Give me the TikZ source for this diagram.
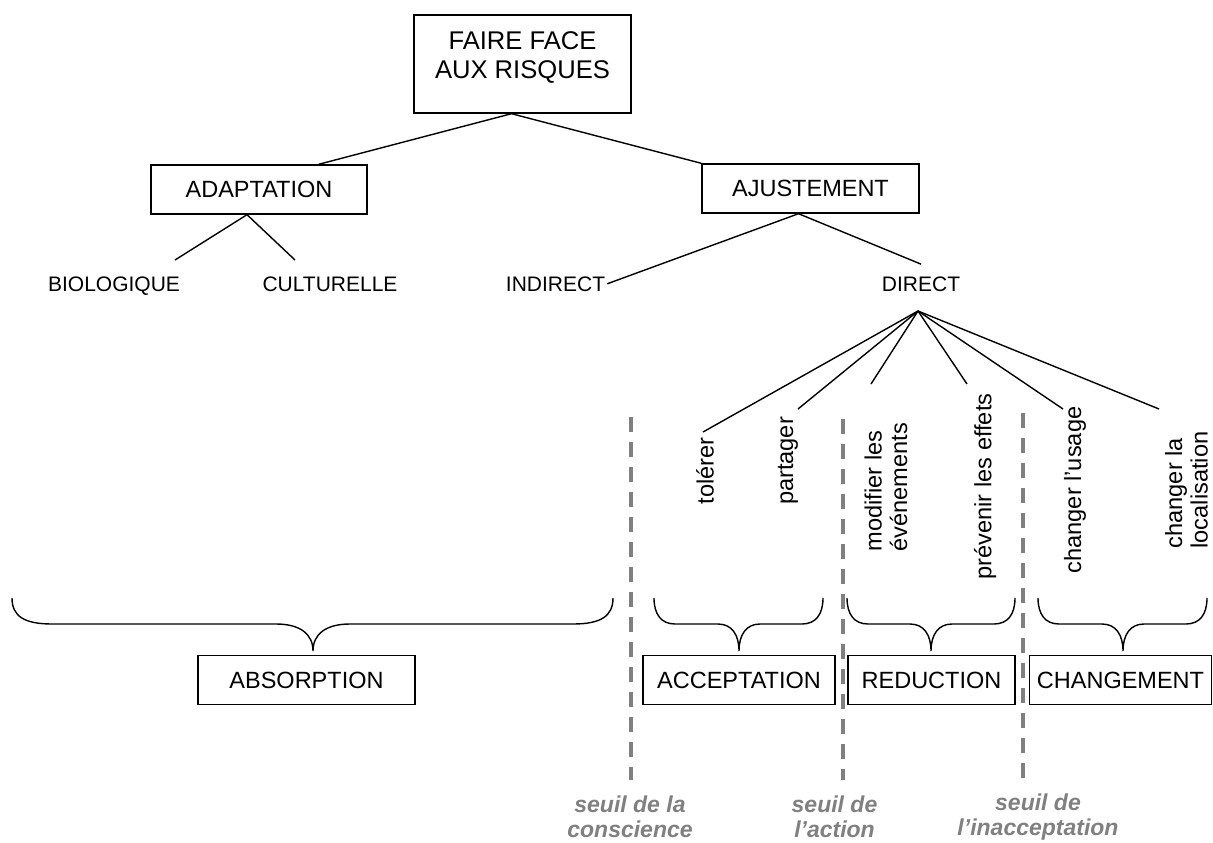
\documentclass[tikz,border=0pt]{standalone}
\usepackage{fontspec}
\setmainfont{Liberation Sans}
\usepackage{xcolor}
\usepackage{tikz}
\definecolor{seuilgray}{RGB}{128,128,128}
\tikzset{
	box/.style={draw, line width=1.4pt, inner sep=0pt, minimum height=49pt, font=\fontsize{23.5}{27}\selectfont},
	lbl/.style={inner sep=2pt, font=\fontsize{21}{24}\selectfont},
	vlbl/.style={rotate=90, inner sep=0pt, align=left, font=\fontsize{23.6}{25.5}\selectfont},
	seuiltxt/.style={text=seuilgray, align=center, inner sep=0pt, font=\fontsize{23}{25}\selectfont\bfseries\itshape},
	seuilline/.style={seuilgray, line width=3.5pt, dash pattern=on 15pt off 10pt},
	link/.style={line width=1.4pt}
}

\begin{document}
\begin{tikzpicture}[x=1pt,y=-1pt]
	\useasboundingbox (0,0) rectangle (1213,843);
	
	\node[box, minimum width=217pt, minimum height=98pt] (faire) at (522.5,64) {};
	\node[align=center, inner sep=0pt, font=\fontsize{25.6}{29}\selectfont] (faireTxt) at ([yshift=6.5pt]faire.center) {FAIRE FACE\\AUX RISQUES};
	
	\node[box, minimum width=216pt] (adapt) at (259,189.5) {ADAPTATION};
	\node[box, minimum width=217pt] (ajust) at (810.5,188.5) {AJUSTEMENT};
	
	\node[lbl, anchor=base] (bio) at (114,291) {BIOLOGIQUE};
	\node[lbl, anchor=base] (cult) at (330,291) {CULTURELLE};
	\node[lbl, anchor=base] (indirect) at (555.5,291) {INDIRECT};
	\node[lbl, anchor=base] (direct) at (921,291) {DIRECT};
	
	\coordinate (bioEnd) at (175,260);
	\coordinate (cultEnd) at (295,260);
	\coordinate (fan) at (918,311);
	
	\draw[link] ([xshift=-11pt]faire.south) -- ([xshift=-49pt]adapt.north east);
	\draw[link] ([xshift=-11pt]faire.south) -- (ajust.north west);
	\draw[link] (bioEnd) -- ([xshift=-12pt]adapt.south) -- (cultEnd);
	\draw[link] (indirect.east) -- ([xshift=-12pt]ajust.south) -- ([yshift=10pt]direct.north);
	
	% les six moyens d'ajustement direct
	\node[vlbl] (tolerer) at (705,471) {tolérer};
	\node[vlbl] (partager) at (788,461) {partager};
	\node[vlbl] (modifier) at (886,487) {modifier les\\événements};
	\node[vlbl] (prevenir) at (985,486.5) {prévenir les effets};
	\node[vlbl] (usage) at (1075,490) {changer l’usage};
	\node[vlbl] (localis) at (1186.5,490) {changer la\\localisation};
	
	\coordinate (tolEnd) at (703,432);
	\coordinate (partEnd) at (798,409);
	\coordinate (modEnd) at (871,384);
	\coordinate (prevEnd) at (967,384);
	\coordinate (usageEnd) at (1063,409);
	\coordinate (locEnd) at (1159,409);
	\foreach \e in {tolEnd,partEnd,modEnd,prevEnd,usageEnd,locEnd}
		\draw[link] (fan) -- (\e);
	
	% accolades
	\draw[link] (12,598) .. controls (12,616) and (24,624) .. (52,624) -- (276,624) .. controls (300,624) and (313,634) .. (313,651) .. controls (313,634) and (326,624) .. (350,624) -- (573,624) .. controls (601,624) and (613,616) .. (613,598);
	\foreach \l/\t/\r in {654/739/823, 847/931/1015, 1038/1123/1207}
		\draw[link] (\l,598) .. controls (\l,614) and ({\l+7},624) .. ({\l+21},624) -- ({\t-21},624) .. controls ({\t-7},624) and (\t,635) .. (\t,651) .. controls (\t,635) and ({\t+7},624) .. ({\t+21},624) -- ({\r-21},624) .. controls ({\r-7},624) and (\r,614) .. (\r,598);
	
	\node[box, minimum width=217pt] (absorp) at (306.5,680) {ABSORPTION};
	\node[box, minimum width=192pt] (accept) at (739,680) {ACCEPTATION};
	\node[box, minimum width=167pt] (reduc) at (931.5,680) {REDUCTION};
	\node[box, minimum width=182pt] (change) at (1120.5,680) {CHANGEMENT};
	
	% seuils
	\draw[seuilline] (631,417) -- (631,780);
	\draw[seuilline] (843,419) -- (843,780);
	\draw[seuilline] (1023,413) -- (1023,780);
	\node[seuiltxt] (conscience) at (630,817) {seuil de la\\conscience};
	\node[seuiltxt] (action) at (834.5,817) {seuil de\\l’action};
	\node[seuiltxt] (inaccept) at (1038,817) {seuil de\\l’inacceptation};
\end{tikzpicture}
\end{document}
